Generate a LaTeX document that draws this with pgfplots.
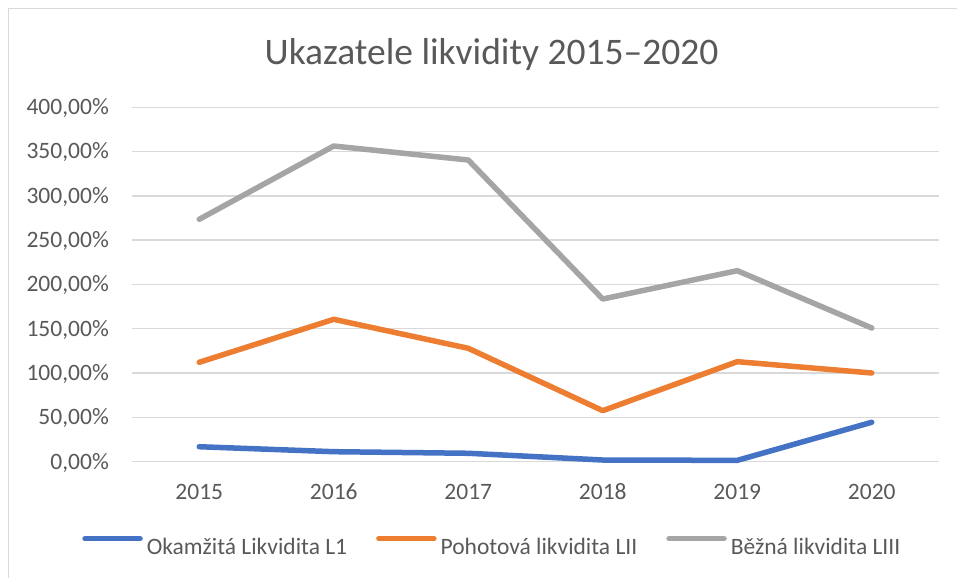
\documentclass[border=0pt]{standalone}
\usepackage{fontspec}
\setmainfont{Carlito}
\usepackage{pgfplots}
\pgfplotsset{compat=1.18}
\definecolor{txt}{HTML}{595959}
\definecolor{gridc}{HTML}{D9D9D9}
\definecolor{cblue}{HTML}{4472C4}
\definecolor{corange}{HTML}{ED7D31}
\definecolor{cgray}{HTML}{A5A5A5}
\begin{document}
\begin{tikzpicture}
\fontsize{23.5bp}{28bp}\selectfont
\draw[color=gridc, line width=1.4bp] (8.5bp,-20bp) -- (8.5bp,569.5bp) -- (990bp,569.5bp);
\node[anchor=base, text=txt, inner sep=0pt, font=\fontsize{37.5bp}{44bp}\selectfont] at (491.5bp,513bp) {Ukazatele likvidity 2015–2020};
\begin{axis}[
  at={(132bp,116.3bp)}, anchor=south west,
  scale only axis, width=807bp, height=354.4bp,
  xmin=-0.5, xmax=5.5, ymin=0, ymax=400,
  axis line style={draw=none},
  xtick={0,1,2,3,4,5},
  xticklabels={2015,2016,2017,2018,2019,2020},
  ytick={0,50,100,150,200,250,300,350,400},
  major tick length=0pt,
  tick style={draw=none},
  xmajorgrids=false,
  ymajorgrids=true,
  major grid style={color=gridc, line width=1.4bp},
  /pgf/number format/assume math mode=true,
  yticklabel={\pgfmathprintnumber[fixed,fixed zerofill,precision=2,use comma]{\tick}\%},
  yticklabel style={anchor=base east, inner sep=0pt, xshift=-23bp, yshift=-7.4bp, text=txt, font=\fontsize{23.5bp}{28bp}\selectfont},
  xticklabel style={anchor=base, inner sep=0pt, yshift=-38.3bp, text=txt, font=\fontsize{23.5bp}{28bp}\selectfont},
  legend columns=3,
  legend style={at={(0.4452,-0.2353)}, anchor=center, draw=none, fill=none, inner sep=0pt, column sep=4bp,
    font=\fontsize{23.5bp}{28bp}\selectfont, text=txt,
    nodes={inner sep=0pt, text height=0.7em, text depth=0pt}},
  /tikz/every even column/.append style={column sep=29bp},
  legend image code/.code={\draw[#1, line cap=round] (0bp,7.3bp) -- (55bp,7.3bp);},
  clip=false,
]
\addplot[cblue, line width=5.5bp, line join=round, line cap=round] coordinates {(0,16.9) (1,11.3) (2,9.5) (3,1.9) (4,1.5) (5,44.5)};
\addlegendentry{Okamžitá Likvidita L1}
\addplot[corange, line width=5.5bp, line join=round, line cap=round] coordinates {(0,112.2) (1,160.7) (2,128) (3,57.6) (4,112.9) (5,100.1)};
\addlegendentry{Pohotová likvidita LII}
\addplot[cgray, line width=5.5bp, line join=round, line cap=round] coordinates {(0,273.6) (1,356.3) (2,340.5) (3,183.6) (4,215.6) (5,150.9)};
\addlegendentry{Běžná likvidita LIII}
\end{axis}
\pgfresetboundingbox
\useasboundingbox (0,0) rectangle (957bp,578bp);
\end{tikzpicture}
\end{document}
